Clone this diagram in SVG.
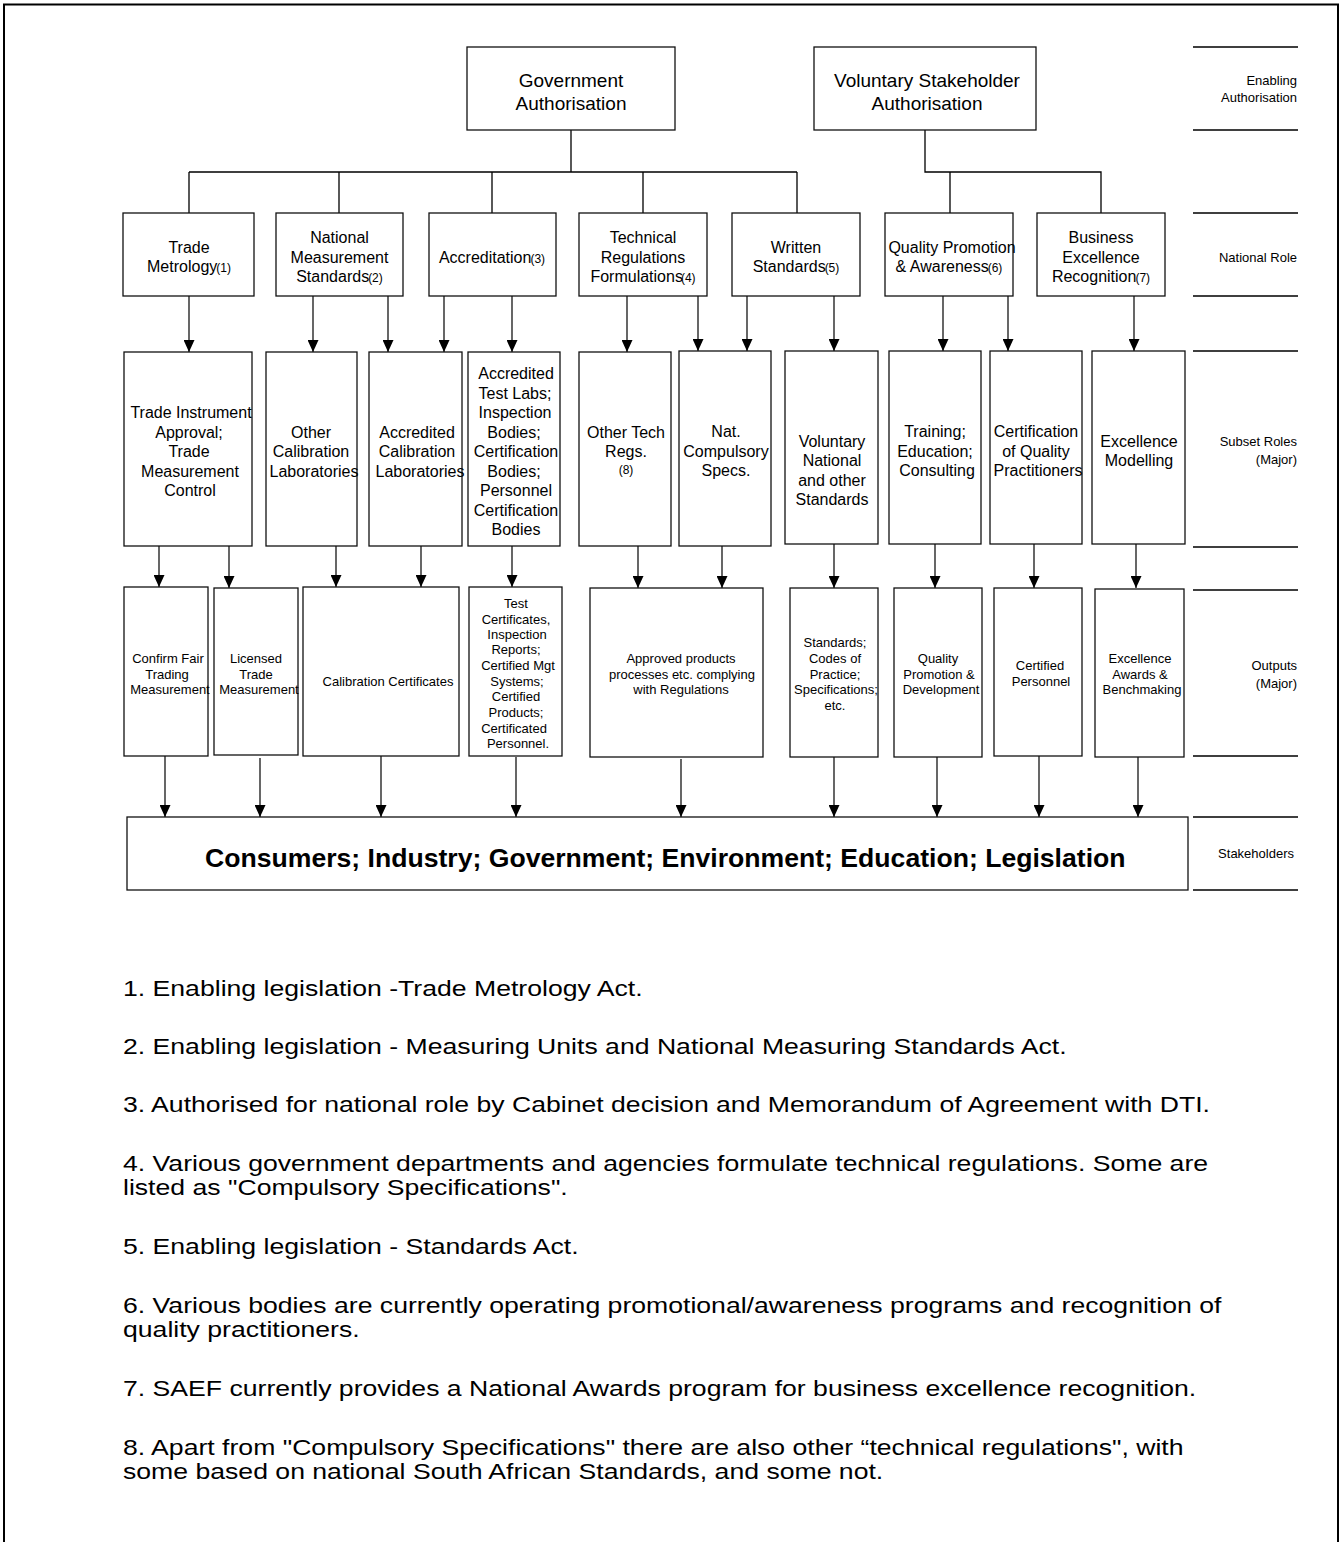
<svg xmlns="http://www.w3.org/2000/svg" width="1343" height="1542" viewBox="0 0 1343 1542">
<defs>
<marker id="ah" viewBox="0 0 12 11" refX="12" refY="5.5" markerWidth="12" markerHeight="11" markerUnits="userSpaceOnUse" orient="auto">
<path d="M0,0 L12,5.5 L0,11 z" fill="#000"/>
</marker>
<style>
.box{fill:#fff;stroke:#111;stroke-width:1.3}
.ln{fill:none;stroke:#000;stroke-width:1.3}
.ar{fill:none;stroke:#000;stroke-width:1.2;marker-end:url(#ah)}
text{font-family:"Liberation Sans",Arial,sans-serif;fill:#000}
.t19{font-size:19px;text-anchor:middle}
.t16{font-size:16px;text-anchor:middle}
.t13{font-size:13px;text-anchor:middle}
.sm{font-size:12px}
.lab{font-size:13px;text-anchor:end}
.big{font-size:26.6px;font-weight:bold}
.fn{font-size:22px}
</style>
</defs>
<rect width="1343" height="1542" fill="#fff"/>
<path d="M4,1542 V4.5 H1338 V1542" fill="none" stroke="#000" stroke-width="2"/>

<g id="side-labels">
<path class="ln" d="M1193,47 H1298 M1193,130 H1298 M1193,213 H1298 M1193,296 H1298 M1193,351 H1298 M1193,547 H1298 M1193,590 H1298 M1193,756 H1298 M1193,817 H1298 M1193,890 H1298"/>
<text class="lab" x="1297" y="85">Enabling</text>
<text class="lab" x="1297" y="102">Authorisation</text>
<text class="lab" x="1297" y="262">National Role</text>
<text class="lab" x="1297" y="446">Subset Roles</text>
<text class="lab" x="1297" y="464">(Major)</text>
<text class="lab" x="1297" y="670">Outputs</text>
<text class="lab" x="1297" y="688">(Major)</text>
<text class="lab" x="1294" y="858">Stakeholders</text>
</g>

<g id="connectors">
<path class="ln" d="M571,130 V172 M189,172 H797 M189,172 V213 M339,172 V213 M492,172 V213 M643,172 V213 M797,172 V213"/>
<path class="ln" d="M925,130 V172 H1101 V213 M950,172 V213"/>
<path class="ar" d="M189,296 V352"/>
<path class="ar" d="M313,296 V352"/>
<path class="ar" d="M388,296 V352"/>
<path class="ar" d="M444,296 V352"/>
<path class="ar" d="M512,296 V352"/>
<path class="ar" d="M627,296 V352"/>
<path class="ar" d="M698,296 V351"/>
<path class="ar" d="M747,296 V351"/>
<path class="ar" d="M834,296 V351"/>
<path class="ar" d="M943,296 V351"/>
<path class="ar" d="M1008,296 V351"/>
<path class="ar" d="M1134,296 V351"/>
<path class="ar" d="M159,546 V587"/>
<path class="ar" d="M229,546 V588"/>
<path class="ar" d="M336,546 V587"/>
<path class="ar" d="M421,546 V587"/>
<path class="ar" d="M512,546 V587"/>
<path class="ar" d="M638,546 V588"/>
<path class="ar" d="M722,546 V588"/>
<path class="ar" d="M834,544 V588"/>
<path class="ar" d="M935,544 V588"/>
<path class="ar" d="M1034,544 V588"/>
<path class="ar" d="M1136,544 V588"/>
<path class="ar" d="M165,756 V817"/>
<path class="ar" d="M260,758 V817"/>
<path class="ar" d="M381,756 V817"/>
<path class="ar" d="M516,757 V817"/>
<path class="ar" d="M681,759 V817"/>
<path class="ar" d="M834,757 V817"/>
<path class="ar" d="M937,757 V817"/>
<path class="ar" d="M1039,756 V817"/>
<path class="ar" d="M1138,757 V817"/>
</g>

<g id="gov">
<rect class="box" x="467" y="47" width="208" height="83"/>
<text class="t19" x="571" y="87">Government</text>
<text class="t19" x="571" y="110">Authorisation</text>
</g>
<g id="vol">
<rect class="box" x="814" y="47" width="222" height="83"/>
<text class="t19" x="927" y="87">Voluntary Stakeholder</text>
<text class="t19" x="927" y="110">Authorisation</text>
</g>

<g id="tm">
<rect class="box" x="123" y="213" width="131" height="83"/>
<text class="t16" x="189" y="253">Trade</text>
<text class="t16" x="189" y="272">Metrology<tspan class="sm" dx="-1">(1)</tspan></text>
</g>
<g id="nms">
<rect class="box" x="276" y="213" width="127" height="83"/>
<text class="t16" x="339.5" y="243">National</text>
<text class="t16" x="339.5" y="263">Measurement</text>
<text class="t16" x="339.5" y="282">Standards<tspan class="sm" dx="-1">(2)</tspan></text>
</g>
<g id="acc">
<rect class="box" x="429" y="213" width="127" height="83"/>
<text class="t16" x="492" y="263">Accreditation<tspan class="sm" dx="-1">(3)</tspan></text>
</g>
<g id="trf">
<rect class="box" x="579" y="213" width="128" height="83"/>
<text class="t16" x="643" y="243">Technical</text>
<text class="t16" x="643" y="263">Regulations</text>
<text class="t16" x="643" y="282">Formulations<tspan class="sm" dx="-2">(4)</tspan></text>
</g>
<g id="ws">
<rect class="box" x="732" y="213" width="128" height="83"/>
<text class="t16" x="796" y="253">Written</text>
<text class="t16" x="796" y="272">Standards<tspan class="sm" dx="-1">(5)</tspan></text>
</g>
<g id="qp">
<rect class="box" x="885" y="213" width="128" height="83"/>
<text class="t16" x="952" y="253">Quality Promotion</text>
<text class="t16" x="949" y="272">&amp; Awareness<tspan class="sm" dx="-1">(6)</tspan></text>
</g>
<g id="be">
<rect class="box" x="1037" y="213" width="128" height="83"/>
<text class="t16" x="1101" y="243">Business</text>
<text class="t16" x="1101" y="263">Excellence</text>
<text class="t16" x="1101" y="282">Recognition<tspan class="sm" dx="-1">(7)</tspan></text>
</g>

<g id="ti">
<rect class="box" x="124" y="352" width="128" height="194"/>
<text class="t16" x="191" y="418">Trade Instrument</text>
<text class="t16" x="189" y="438">Approval;</text>
<text class="t16" x="189" y="457">Trade</text>
<text class="t16" x="190" y="477">Measurement</text>
<text class="t16" x="190" y="496">Control</text>
</g>
<g id="ocl">
<rect class="box" x="266" y="352" width="91" height="194"/>
<text class="t16" x="311" y="438">Other</text>
<text class="t16" x="311" y="457">Calibration</text>
<text class="t16" x="314" y="477">Laboratories</text>
</g>
<g id="acl">
<rect class="box" x="369" y="352" width="93" height="194"/>
<text class="t16" x="417" y="438">Accredited</text>
<text class="t16" x="417" y="457">Calibration</text>
<text class="t16" x="420" y="477">Laboratories</text>
</g>
<g id="atl">
<rect class="box" x="468" y="352" width="92" height="194"/>
<text class="t16" x="516" y="379">Accredited</text>
<text class="t16" x="515" y="398.5">Test Labs;</text>
<text class="t16" x="515" y="418">Inspection</text>
<text class="t16" x="514" y="437.5">Bodies;</text>
<text class="t16" x="516" y="457">Certification</text>
<text class="t16" x="514" y="476.5">Bodies;</text>
<text class="t16" x="516" y="496">Personnel</text>
<text class="t16" x="516" y="515.5">Certification</text>
<text class="t16" x="516" y="535">Bodies</text>
</g>
<g id="otr">
<rect class="box" x="579" y="352" width="92" height="194"/>
<text class="t16" x="626" y="438">Other Tech</text>
<text class="t16" x="626" y="457">Regs.</text>
<text class="t13" x="626" y="474" style="font-size:12px">(8)</text>
</g>
<g id="ncs">
<rect class="box" x="679" y="351" width="92" height="195"/>
<text class="t16" x="726" y="437">Nat.</text>
<text class="t16" x="726" y="457">Compulsory</text>
<text class="t16" x="726" y="476">Specs.</text>
</g>
<g id="vns">
<rect class="box" x="785" y="351" width="93" height="193"/>
<text class="t16" x="832" y="447">Voluntary</text>
<text class="t16" x="832" y="466">National</text>
<text class="t16" x="832" y="486">and other</text>
<text class="t16" x="832" y="505">Standards</text>
</g>
<g id="tec">
<rect class="box" x="889" y="351" width="92" height="193"/>
<text class="t16" x="935" y="437">Training;</text>
<text class="t16" x="935" y="457">Education;</text>
<text class="t16" x="937" y="476">Consulting</text>
</g>
<g id="cqp">
<rect class="box" x="990" y="351" width="92" height="193"/>
<text class="t16" x="1036" y="437">Certification</text>
<text class="t16" x="1036" y="457">of Quality</text>
<text class="t16" x="1038" y="476">Practitioners</text>
</g>
<g id="exm">
<rect class="box" x="1092" y="351" width="93" height="193"/>
<text class="t16" x="1139" y="447">Excellence</text>
<text class="t16" x="1139" y="466">Modelling</text>
</g>

<g id="cft">
<rect class="box" x="124" y="587" width="84" height="169"/>
<text class="t13" x="168" y="663">Confirm Fair</text>
<text class="t13" x="167" y="679">Trading</text>
<text class="t13" x="170" y="694">Measurement</text>
</g>
<g id="lic">
<rect class="box" x="214" y="588" width="84" height="167"/>
<text class="t13" x="256" y="663">Licensed</text>
<text class="t13" x="256" y="679">Trade</text>
<text class="t13" x="259" y="694">Measurement</text>
</g>
<g id="cal">
<rect class="box" x="303" y="587" width="156" height="169"/>
<text class="t13" x="388" y="686">Calibration Certificates</text>
</g>
<g id="tcr">
<rect class="box" x="469" y="587" width="93" height="169"/>
<text class="t13" x="516" y="608">Test</text>
<text class="t13" x="516" y="624">Certificates,</text>
<text class="t13" x="517" y="639">Inspection</text>
<text class="t13" x="516" y="654">Reports;</text>
<text class="t13" x="518" y="670">Certified Mgt</text>
<text class="t13" x="517" y="686">Systems;</text>
<text class="t13" x="516" y="701">Certified</text>
<text class="t13" x="516" y="717">Products;</text>
<text class="t13" x="514" y="733">Certificated</text>
<text class="t13" x="518" y="748">Personnel.</text>
</g>
<g id="apr">
<rect class="box" x="590" y="588" width="173" height="169"/>
<text class="t13" x="681" y="663">Approved products</text>
<text class="t13" x="682" y="679">processes etc. complying</text>
<text class="t13" x="681" y="694">with Regulations</text>
</g>
<g id="std">
<rect class="box" x="790" y="588" width="88" height="169"/>
<text class="t13" x="835" y="647">Standards;</text>
<text class="t13" x="835" y="663">Codes of</text>
<text class="t13" x="835" y="679">Practice;</text>
<text class="t13" x="836" y="694">Specifications;</text>
<text class="t13" x="835" y="710">etc.</text>
</g>
<g id="qpd">
<rect class="box" x="894" y="588" width="88" height="169"/>
<text class="t13" x="938" y="663">Quality</text>
<text class="t13" x="939" y="679">Promotion &amp;</text>
<text class="t13" x="941" y="694">Development</text>
</g>
<g id="cpe">
<rect class="box" x="994" y="588" width="88" height="168"/>
<text class="t13" x="1040" y="670">Certified</text>
<text class="t13" x="1041" y="686">Personnel</text>
</g>
<g id="eab">
<rect class="box" x="1095" y="589" width="89" height="168"/>
<text class="t13" x="1140" y="663">Excellence</text>
<text class="t13" x="1140" y="679">Awards &amp;</text>
<text class="t13" x="1142" y="694">Benchmaking</text>
</g>

<g id="stakeholders">
<rect class="box" x="127" y="817" width="1061" height="73"/>
<text class="big" x="205" y="867">Consumers; Industry; Government; Environment; Education; Legislation</text>
</g>

<g id="footnotes" transform="translate(123 0) scale(1.21 1)">
<text class="fn" x="0" y="996">1. Enabling legislation -Trade Metrology Act.</text>
<text class="fn" x="0" y="1054">2. Enabling legislation - Measuring Units and National Measuring Standards Act.</text>
<text class="fn" x="0" y="1112">3. Authorised for national role by Cabinet decision and Memorandum of Agreement with DTI.</text>
<text class="fn" x="0" y="1171">4. Various government departments and agencies formulate technical regulations. Some are</text>
<text class="fn" x="0" y="1195">listed as "Compulsory Specifications".</text>
<text class="fn" x="0" y="1254">5. Enabling legislation - Standards Act.</text>
<text class="fn" x="0" y="1313">6. Various bodies are currently operating promotional/awareness programs and recognition of</text>
<text class="fn" x="0" y="1337">quality practitioners.</text>
<text class="fn" x="0" y="1396">7. SAEF currently provides a National Awards program for business excellence recognition.</text>
<text class="fn" x="0" y="1455">8. Apart from "Compulsory Specifications" there are also other “technical regulations", with</text>
<text class="fn" x="0" y="1479">some based on national South African Standards, and some not.</text>
</g>
</svg>
